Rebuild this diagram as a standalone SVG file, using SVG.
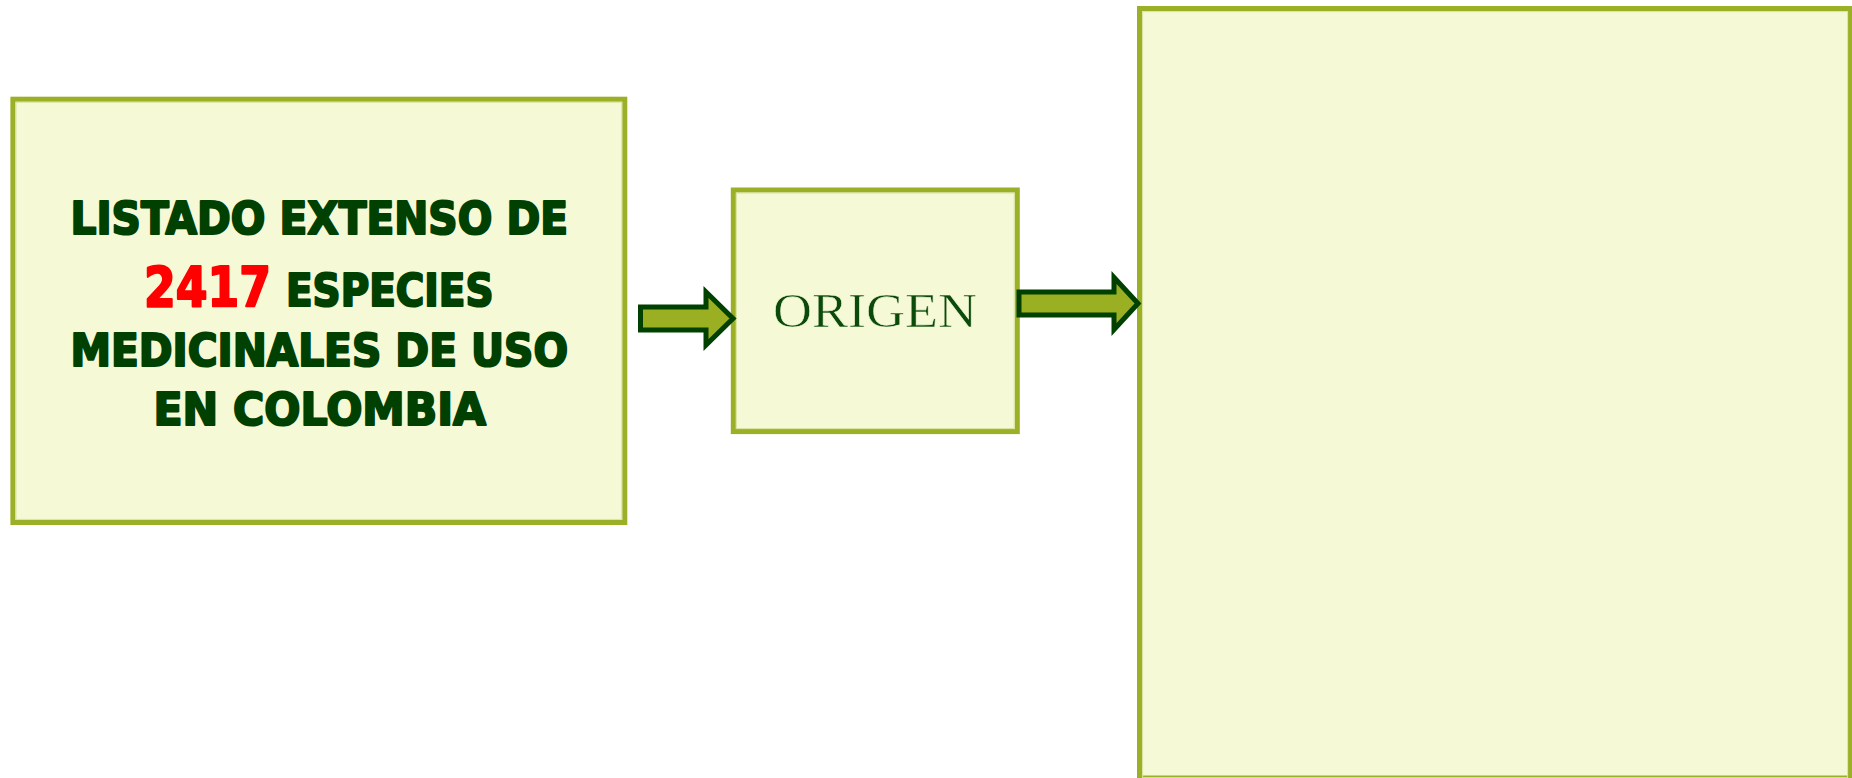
<svg xmlns="http://www.w3.org/2000/svg" width="1852" height="778" viewBox="0 0 1852 778">
<style>
.box{fill:#F5F9D6;stroke:#9BB026;stroke-width:5}
.inner{fill:none;stroke:#D9E4A0;stroke-width:1}
.big{font-family:"DejaVu Sans","Liberation Sans",sans-serif;font-weight:bold;fill:#004000;stroke:#004000;stroke-width:2.2;stroke-linejoin:round;font-size:45px}
.red{fill:#FF0000;stroke:#FF0000;font-size:55px}
.serif{font-family:"Liberation Serif","DejaVu Serif",serif;fill:#0B4A0B;font-size:49px;stroke:#F5F9D6;stroke-width:0.6}
.arrow{fill:#9BAF23;stroke:#004000;stroke-width:5;stroke-linejoin:miter}
</style>
<rect width="1852" height="778" fill="#FFFFFF"/>
<g id="node-listado">
<rect class="box" x="12.9" y="99.2" width="611.9" height="423.3"/>
<rect class="inner" x="16" y="102.3" width="605.7" height="417.1"/>
<text class="big" x="70.5" y="233.5" textLength="497.5" lengthAdjust="spacingAndGlyphs">LISTADO EXTENSO DE</text>
<text class="big" y="306.2"><tspan class="red" x="144" textLength="127" lengthAdjust="spacingAndGlyphs">2417</tspan><tspan x="286" textLength="207.5" lengthAdjust="spacingAndGlyphs">ESPECIES</tspan></text>
<text class="big" x="70.5" y="366.2" textLength="497.5" lengthAdjust="spacingAndGlyphs">MEDICINALES DE USO</text>
<text class="big" x="153.5" y="424.5" textLength="332.5" lengthAdjust="spacingAndGlyphs">EN COLOMBIA</text>
</g>
<g id="node-origen">
<rect class="box" x="733.3" y="190" width="284" height="241.6"/>
<rect class="inner" x="736.4" y="193.1" width="277.8" height="235.4"/>
<text class="serif" x="773" y="326.7" textLength="204" lengthAdjust="spacingAndGlyphs">ORIGEN</text>
</g>
<g id="node-right">
<rect class="box" x="1139.5" y="8.5" width="711" height="769.5"/>
<rect class="inner" x="1142.6" y="11.6" width="705" height="766"/>
</g>
<g id="connectors">
<polygon class="arrow" points="640.5,307 706,307 706,292 733,318.5 706,345 706,330 640.5,330"/>
<polygon class="arrow" points="1019,292 1114,292 1114,277.5 1138,303.5 1114,329.5 1114,315 1019,315"/>
</g>
</svg>
